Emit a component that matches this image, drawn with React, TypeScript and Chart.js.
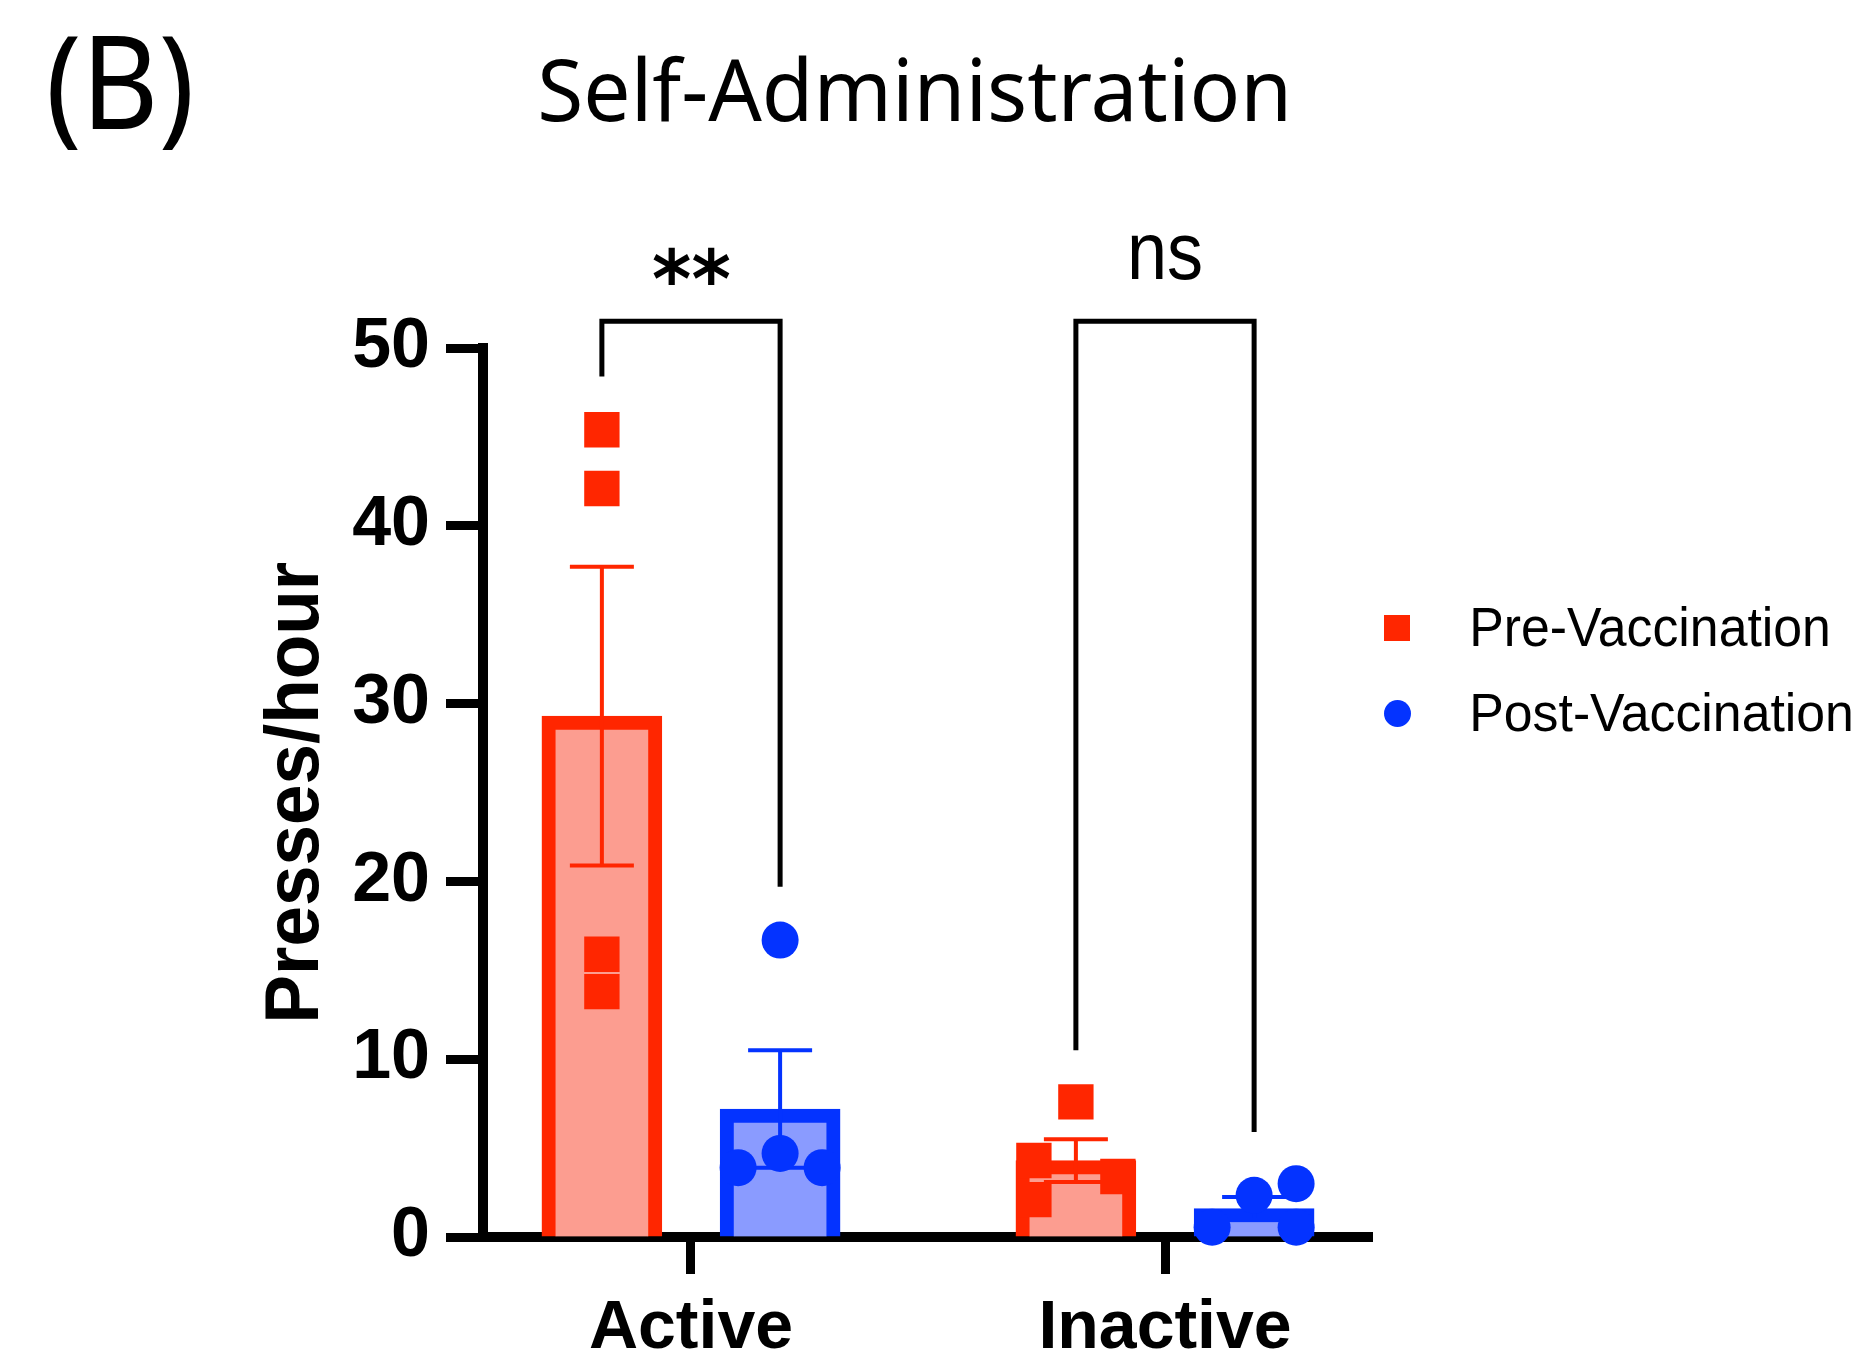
import React, { useEffect, useRef } from 'react';
import { Chart, registerables } from 'chart.js';

Chart.register(...registerables);

// ---------- data ----------
const categories = ['Active', 'Inactive'];
const seriesNames = ['Pre-Vaccination', 'Post-Vaccination'];
const preMean = [29.3, 4.3];
const postMean = [7.2, 1.6];
const preSem = [8.4, 1.2];
const postSem = [3.3, 0.65];
const prePoints = [
  [45.4, 42.1, 15.9, 13.8],
  [7.6, 4.3, 2.1, 3.4],
];
const prePointJitter = [
  [0, 0, 0, 0],
  [0, -1, -1, 1],
];
const postPoints = [
  [16.7, 4.7, 3.9, 3.9],
  [2.35, 3.0, 0.55, 0.55],
];
const postPointJitter = [
  [0, 0, -1, 1],
  [0, 1, -1, 1],
];
const yTickValues = [0, 10, 20, 30, 40, 50];
const significanceLabels = ['**', 'ns'];
const bracketLeftEnd = [48.4, 10.5];
const bracketRightEnd = [19.7, 5.9];
const bracketTop = 51.5;

// ---------- style / layout ----------
const RED = '#FF2600';
const SALMON = '#FC9D90';
const BLUE = '#0433FF';
const LIGHTBLUE = '#8A9BFF';
const GROUP_OFFSET = 0.188;
const JITTER = 0.0886;
const X_MIN = -0.4388;
const X_MAX = 1.4367;
const W = 1858;
const H = 1362;

type Box = { l: number; t: number; r: number; b: number };

function fitText(ctx: CanvasRenderingContext2D, text: string, font: string, box: Box) {
  ctx.save();
  ctx.font = font;
  ctx.textAlign = 'left';
  ctx.textBaseline = 'alphabetic';
  const m = ctx.measureText(text);
  const w = m.actualBoundingBoxLeft + m.actualBoundingBoxRight;
  const h = m.actualBoundingBoxAscent + m.actualBoundingBoxDescent;
  const sx = (box.r - box.l) / w;
  const sy = (box.b - box.t) / h;
  ctx.translate(box.l, box.t);
  ctx.scale(sx, sy);
  ctx.fillStyle = '#000';
  ctx.fillText(text, m.actualBoundingBoxLeft, m.actualBoundingBoxAscent);
  ctx.restore();
}

const errorBarPlugin = {
  id: 'errorBars',
  afterDatasetDraw(chart: any, args: any) {
    const ds = chart.data.datasets[args.index];
    const errs: number[] | undefined = ds.errorValues;
    if (!errs) return;
    const y = chart.scales.y;
    const ctx: CanvasRenderingContext2D = chart.ctx;
    ctx.save();
    ctx.strokeStyle = ds.borderColor;
    ctx.lineWidth = 4;
    args.meta.data.forEach((bar: any, i: number) => {
      const v = ds.data[i].y;
      const e = errs[i];
      const x = bar.x;
      const yt = y.getPixelForValue(v + e);
      const yb = y.getPixelForValue(v - e);
      ctx.beginPath();
      ctx.moveTo(x, yt);
      ctx.lineTo(x, yb);
      ctx.moveTo(x - 32, yt);
      ctx.lineTo(x + 32, yt);
      ctx.moveTo(x - 32, yb);
      ctx.lineTo(x + 32, yb);
      ctx.stroke();
    });
    ctx.restore();
  },
};

const annotationPlugin = {
  id: 'annotations',
  afterDraw(chart: any) {
    const ctx: CanvasRenderingContext2D = chart.ctx;
    const xs = chart.scales.x;
    const ys = chart.scales.y;

    // significance brackets
    ctx.save();
    ctx.strokeStyle = '#000';
    ctx.lineWidth = 5;
    ctx.lineJoin = 'miter';
    categories.forEach((_, i) => {
      const xl = xs.getPixelForValue(i - GROUP_OFFSET);
      const xr = xs.getPixelForValue(i + GROUP_OFFSET);
      const yt = ys.getPixelForValue(bracketTop);
      ctx.beginPath();
      ctx.moveTo(xl, ys.getPixelForValue(bracketLeftEnd[i]));
      ctx.lineTo(xl, yt);
      ctx.lineTo(xr, yt);
      ctx.lineTo(xr, ys.getPixelForValue(bracketRightEnd[i]));
      ctx.stroke();
    });
    ctx.restore();

    const cA = xs.getPixelForValue(0);
    const cI = xs.getPixelForValue(1);
    fitText(ctx, significanceLabels[0], 'bold 80px "DejaVu Sans"', { l: cA - 38, t: 247, r: cA + 39, b: 285 });
    fitText(ctx, significanceLabels[1], '70px "Liberation Sans"', { l: cI - 34, t: 235, r: cI + 36, b: 280 });

    // title and panel letter
    fitText(ctx, '(B)', '110px "Noto Sans"', { l: 50, t: 36, r: 190, b: 149 });
    fitText(ctx, 'Self-Administration', '90px "Noto Sans"', { l: 541, t: 55, r: 1286, b: 122 });

    // y axis title (rotated)
    ctx.save();
    ctx.translate(291.5, 791);
    ctx.rotate(-Math.PI / 2);
    fitText(ctx, 'Presses/hour', 'bold 80px "Liberation Sans"', { l: -228, t: -28.5, r: 228, b: 28.5 });
    ctx.restore();

    // legend
    ctx.save();
    ctx.fillStyle = RED;
    ctx.fillRect(1384, 615, 26, 26);
    ctx.fillStyle = BLUE;
    ctx.beginPath();
    ctx.arc(1397.5, 713.5, 13.5, 0, Math.PI * 2);
    ctx.fill();
    ctx.restore();
    fitText(ctx, seriesNames[0], '56px "Liberation Sans"', { l: 1473, t: 607, r: 1828, b: 647 });
    fitText(ctx, seriesNames[1], '56px "Liberation Sans"', { l: 1473, t: 693, r: 1851, b: 732 });
  },
};

export default function App() {
  const ref = useRef<HTMLCanvasElement | null>(null);

  useEffect(() => {
    if (!ref.current) return;
    const prePts: { x: number; y: number }[] = [];
    const postPts: { x: number; y: number }[] = [];
    categories.forEach((_, i) => {
      prePoints[i].forEach((v, j) => prePts.push({ x: i - GROUP_OFFSET + prePointJitter[i][j] * JITTER, y: v }));
      postPoints[i].forEach((v, j) => postPts.push({ x: i + GROUP_OFFSET + postPointJitter[i][j] * JITTER, y: v }));
    });

    const chart = new Chart(ref.current, {
      type: 'bar',
      data: {
        datasets: [
          {
            type: 'bar',
            label: seriesNames[0],
            data: categories.map((_, i) => ({ x: i - GROUP_OFFSET, y: preMean[i] })),
            backgroundColor: SALMON,
            borderColor: RED,
            borderWidth: 14,
            barThickness: 120,
            grouped: false,
            order: 2,
            errorValues: preSem,
          } as any,
          {
            type: 'bar',
            label: seriesNames[1],
            data: categories.map((_, i) => ({ x: i + GROUP_OFFSET, y: postMean[i] })),
            backgroundColor: LIGHTBLUE,
            borderColor: BLUE,
            borderWidth: 14,
            barThickness: 120,
            grouped: false,
            order: 2,
            errorValues: postSem,
          } as any,
          {
            type: 'scatter',
            label: seriesNames[0] + ' points',
            data: prePts,
            pointStyle: 'rect',
            pointRadius: 25,
            backgroundColor: RED,
            borderWidth: 0,
            order: 0,
            clip: false,
          } as any,
          {
            type: 'scatter',
            label: seriesNames[1] + ' points',
            data: postPts,
            pointStyle: 'circle',
            pointRadius: 18.5,
            backgroundColor: BLUE,
            borderWidth: 0,
            order: 0,
            clip: false,
          } as any,
        ],
      },
      options: {
        responsive: false,
        animation: false,
        devicePixelRatio: 1,
        layout: { padding: { left: 0, top: 348, right: W - 1372, bottom: 0 } },
        plugins: {
          legend: { display: false },
          tooltip: { enabled: false },
          title: { display: false },
        },
        scales: {
          x: {
            type: 'linear',
            min: X_MIN,
            max: X_MAX,
            offset: false,
            afterFit: (s: any) => { s.height = H - 1237; },
            afterBuildTicks: (s: any) => { s.ticks = categories.map((_, i) => ({ value: i })); },
            grid: {
              display: true,
              offset: false,
              drawOnChartArea: false,
              drawTicks: true,
              tickLength: 37,
              tickWidth: 9,
              tickColor: '#000',
              color: '#000',
            },
            border: { display: true, color: '#000', width: 10 },
            ticks: {
              autoSkip: false,
              maxRotation: 0,
              padding: 14,
              color: '#000',
              font: { family: 'Liberation Sans', weight: 'bold', size: 68 },
              callback: (_v: any, i: number) => categories[i],
            },
          },
          y: {
            type: 'linear',
            min: 0,
            max: 50,
            afterFit: (s: any) => { s.width = 483; },
            afterBuildTicks: (s: any) => { s.ticks = yTickValues.map((v) => ({ value: v })); },
            grid: {
              display: true,
              drawOnChartArea: false,
              drawTicks: true,
              tickLength: 37,
              tickWidth: 9,
              tickColor: '#000',
              color: '#000',
            },
            border: { display: true, color: '#000', width: 10 },
            ticks: {
              padding: 16,
              color: '#000',
              font: { family: 'Liberation Sans', weight: 'bold', size: 70 },
              callback: (v: any) => String(v),
            },
            title: { display: false },
          },
        },
      } as any,
      plugins: [errorBarPlugin, annotationPlugin],
    });
    return () => chart.destroy();
  }, []);

  return (
    <div style={{ position: 'absolute', left: 0, top: 0, width: W, height: H, background: '#fff' }}>
      <canvas ref={ref} width={W} height={H} style={{ display: 'block' }} />
    </div>
  );
}
